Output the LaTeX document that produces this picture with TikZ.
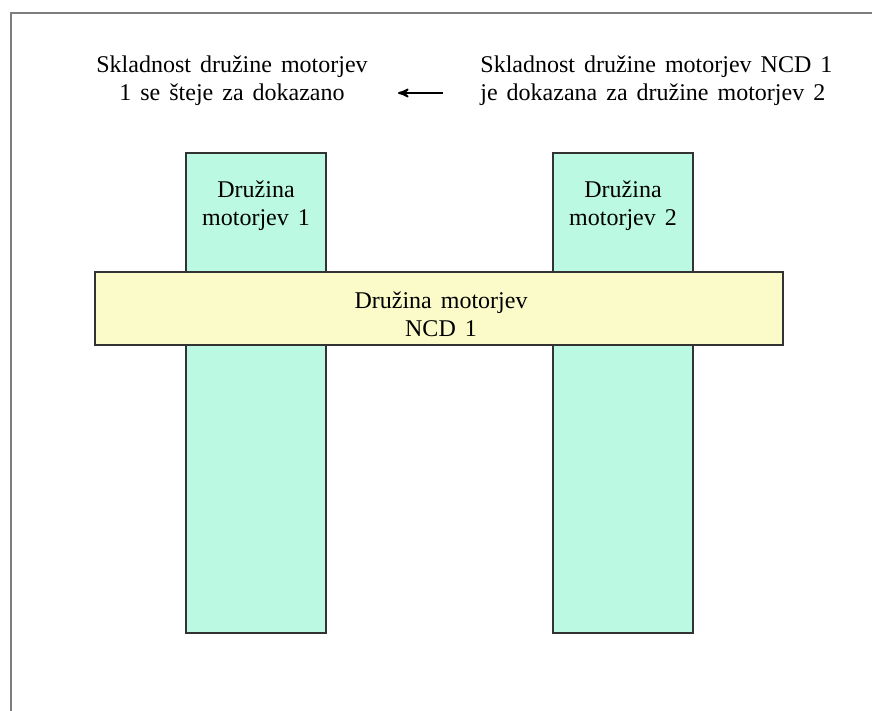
\documentclass[tikz,border=0pt]{standalone}
\usepackage{fontspec}
\setmainfont{Liberation Serif}
\usetikzlibrary{arrows}
\definecolor{famgreen}{RGB}{187,249,226}
\definecolor{ncdyellow}{RGB}{250,251,200}
\definecolor{framegray}{RGB}{125,125,125}
\newcommand\diagfont{\fontsize{12}{14}\selectfont\spaceskip=4.5pt plus 1pt minus 1pt\relax}

\begin{document}
\begin{tikzpicture}[x=0.5pt,y=-0.5pt,>=stealth',font=\diagfont]
\tikzstyle{family}=[draw=black!80,line width=0.8pt,fill=famgreen,minimum width=70pt,minimum height=240pt,inner sep=0pt]
\tikzstyle{ncd}=[family,fill=ncdyellow,minimum width=344pt,minimum height=36.5pt]
\tikzstyle{annot}=[align=center,inner sep=0pt]

\useasboundingbox (0,0) rectangle (872,711);

% Frame
\draw[framegray,line width=1pt] (11,711) -- (11,13) -- (872,13);

% Draw the engine families
\foreach \name / \x in {1/256,2/623}
\node[family] (F-\name) at (\x,393) {};

% Write family labels
\foreach \name / \x in {1/256,2/623}
\node[annot] (FL-\name) at (\x,206) {Družina\\motorjev \name};

% Draw the NCD family across both
\node[ncd] (NCD-1) at (439,308.5) {};
\node[annot] (NCDL-1) at (441,314) {Družina motorjev\\NCD 1};

%Annotate the top
\node[annot] (conf-1) at (232,81) {Skladnost družine motorjev\\1 se šteje za dokazano};
\node[annot,anchor=west,align=left] (conf-2) at (480,81) {Skladnost družine motorjev NCD 1\\je dokazana za družine motorjev 2};

\coordinate (arrow tail) at (443,93);
\coordinate (arrow tip) at (398,93);
\draw[->,line width=0.9pt] (arrow tail) -- (arrow tip);

\end{tikzpicture}
\end{document}
